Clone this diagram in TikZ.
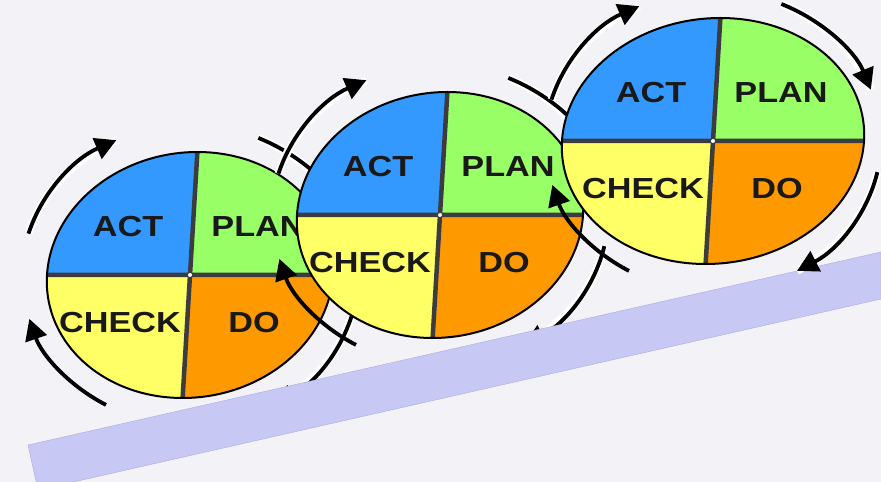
\documentclass[tikz,border=0pt]{standalone}
\usepackage{fontspec}
\setmainfont{Liberation Sans}
\usepackage{graphicx}
\usetikzlibrary{arrows.meta}

\definecolor{bggray}{HTML}{F3F3F7}
\definecolor{actblue}{HTML}{3399FF}
\definecolor{plangreen}{HTML}{99FF66}
\definecolor{checkyellow}{HTML}{FFFF66}
\definecolor{doorange}{HTML}{FF9900}
\definecolor{divgray}{HTML}{3C3C40}
\definecolor{ramp}{HTML}{C8C8F4}
\definecolor{rampedge}{HTML}{AAAAE6}

\begin{document}
\begin{tikzpicture}[x=1pt, y=1pt,
    arrowarc/.style={line width=3.8pt, -{Triangle[length=21pt,width=22pt]}},
    casing/.style={preaction={draw=white, line width=8pt, -}},
    divider/.style={line width=4.5pt, draw=divgray},
    rim/.style={line width=2pt, draw=black},
    word/.style={font=\bfseries\fontsize{29}{29}\selectfont, text=black!90}]
    \fill[bggray] (0,0) rectangle (881,482);
    \useasboundingbox (0,0) rectangle (881,482);
    \foreach \cx/\cy/\rx/\n in {190/207/143/1, 440/267/143/2, 713/341/151/3}{
        \ifnum\n=3
            % the slope, under the last wheel
            \filldraw[fill=ramp, draw=rampedge] (28,37) -- (881,230) -- (881,183) -- (38,-8) -- cycle;
        \fi
        \begin{scope}[shift={(\cx,\cy)}]
            \draw[arrowarc, casing] (164:168 and 150) arc[start angle=164, end angle=116, x radius=168, y radius=150];
            \draw[arrowarc] (240:168 and 150) arc[start angle=240, end angle=197, x radius=168, y radius=150];
            \draw[arrowarc, casing] (66:168 and 150) arc[start angle=66, end angle=20, x radius=168, y radius=150];
            \draw[arrowarc, casing] (-12:168 and 150) arc[start angle=-12, end angle=-60, x radius=168, y radius=150];
            \begin{scope}[xslant=0.06]
                \fill[actblue] (0,0) -- (-\rx,0) arc[start angle=180, end angle=90, x radius=\rx, y radius=123] -- cycle;
                \fill[plangreen] (0,0) -- (0,123) arc[start angle=90, end angle=0, x radius=\rx, y radius=123] -- cycle;
                \fill[doorange] (0,0) -- (\rx,0) arc[start angle=0, end angle=-90, x radius=\rx, y radius=123] -- cycle;
                \fill[checkyellow] (0,0) -- (0,-123) arc[start angle=-90, end angle=-180, x radius=\rx, y radius=123] -- cycle;
                \draw[divider] (-\rx,0) -- (\rx,0) (0,123) -- (0,-123);
                \draw[rim] (0,0) ellipse[x radius=\rx, y radius=123];
                \fill[white] (0,0) circle (2);
            \end{scope}
            \node[word] (act\n) at (-62,48) {\scalebox{1.18}[1]{ACT}};
            \node[word] (plan\n) at (68,48) {\scalebox{1.18}[1]{PLAN}};
            \node[word] (check\n) at (-70,-48) {\scalebox{1.18}[1]{CHECK}};
            \node[word] (do\n) at (64,-48) {\scalebox{1.18}[1]{DO}};
        \end{scope}
    }
\end{tikzpicture}
\end{document}
